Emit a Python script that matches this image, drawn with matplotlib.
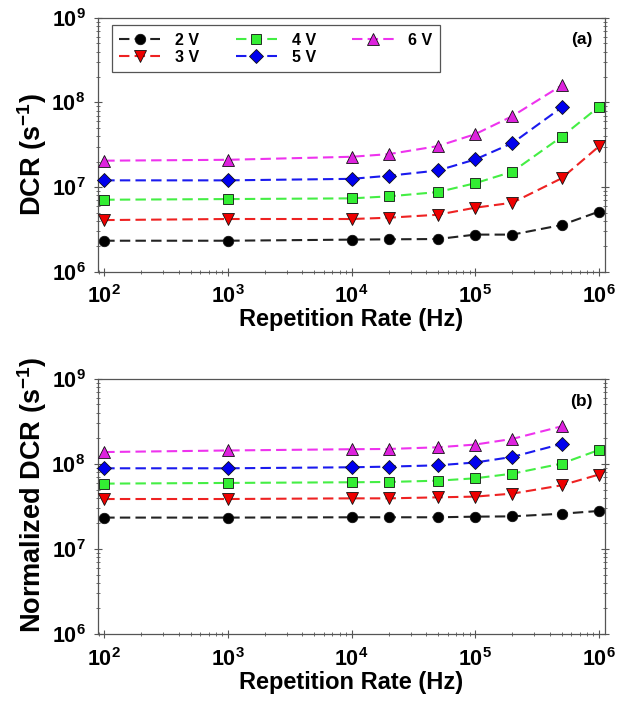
import matplotlib
matplotlib.use("Agg")
import math
import matplotlib.pyplot as plt
from matplotlib.ticker import LogLocator, FuncFormatter, NullFormatter

plt.rcParams['font.family'] = ['Liberation Sans', 'DejaVu Sans']
plt.rcParams['font.weight'] = 'bold'
plt.rcParams['mathtext.fontset'] = 'custom'
plt.rcParams['mathtext.rm'] = 'Liberation Sans:bold'
plt.rcParams['mathtext.bf'] = 'Liberation Sans:bold'
plt.rcParams['mathtext.it'] = 'Liberation Sans:bold'

# Repetition rates (Hz)
rate = [1e2, 1e3, 1e4, 2e4, 5e4, 1e5, 2e5, 5e5, 1e6]
series_labels = ['2 V', '3 V', '4 V', '5 V', '6 V']

# Panel (a): DCR (s^-1)
dcr_2v = [2.32e6, 2.32e6, 2.39e6, 2.41e6, 2.43e6, 2.74e6, 2.74e6, 3.56e6, 5.12e6]
dcr_3v = [4.07e6, 4.19e6, 4.19e6, 4.34e6, 4.71e6, 5.70e6, 6.53e6, 1.27e7, 3.02e7]
dcr_4v = [7.08e6, 7.21e6, 7.35e6, 7.76e6, 8.73e6, 1.11e7, 1.52e7, 3.93e7, 8.89e7]
dcr_5v = [1.20e7, 1.20e7, 1.25e7, 1.36e7, 1.57e7, 2.12e7, 3.31e7, 8.73e7]
dcr_6v = [2.05e7, 2.10e7, 2.28e7, 2.45e7, 3.05e7, 4.22e7, 6.90e7, 1.59e8]

# Panel (b): normalized DCR (s^-1)
ndcr_2v = [2.34e7, 2.34e7, 2.36e7, 2.36e7, 2.36e7, 2.40e7, 2.42e7, 2.60e7, 2.80e7]
ndcr_3v = [3.87e7, 3.87e7, 3.94e7, 3.94e7, 4.05e7, 4.13e7, 4.48e7, 5.61e7, 7.50e7]
ndcr_4v = [5.87e7, 5.98e7, 6.09e7, 6.14e7, 6.36e7, 6.78e7, 7.69e7, 1.01e8, 1.46e8]
ndcr_5v = [8.89e7, 8.89e7, 9.14e7, 9.30e7, 9.64e7, 1.04e8, 1.21e8, 1.72e8]
ndcr_6v = [1.38e8, 1.44e8, 1.49e8, 1.50e8, 1.57e8, 1.69e8, 1.97e8, 2.77e8]

line_colors = ['#222222', '#ee2222', '#44ee44', '#1a1aee', '#ee33ee']
face_colors = ['#000000', '#ee0000', '#33ee33', '#0000ee', '#dd22dd']
markers = ['o', 'v', 's', 'D', '^']
msizes = [7.5, 8, 7, 7, 8]

fig = plt.figure(figsize=(6.24, 7.01), dpi=100)
ax_a = fig.add_axes([0.157, 0.6125, 0.8125, 0.362])
ax_b = fig.add_axes([0.157, 0.0955, 0.8125, 0.364])

def sci(v, pos):
    e = int(round(math.log10(v)))
    return r'$\mathbf{10^{%d}}$' % e

def style(ax, ylabel, ylabel_y):
    ax.set_xscale('log')
    ax.set_yscale('log')
    ax.set_xlim(89, 1.12e6)
    ax.set_ylim(1e6, 1e9)
    ax.xaxis.set_major_locator(LogLocator(base=10, numticks=10))
    ax.xaxis.set_minor_locator(LogLocator(base=10, subs=range(2, 10), numticks=20))
    ax.yaxis.set_major_locator(LogLocator(base=10, numticks=10))
    ax.yaxis.set_minor_locator(LogLocator(base=10, subs=range(2, 10), numticks=20))
    ax.xaxis.set_major_formatter(FuncFormatter(sci))
    ax.yaxis.set_major_formatter(FuncFormatter(sci))
    ax.xaxis.set_minor_formatter(NullFormatter())
    ax.yaxis.set_minor_formatter(NullFormatter())
    ax.tick_params(which='major', direction='inout', length=6, width=0.8,
                   colors='#555555', labelcolor='black', labelsize=15.5,
                   top=False, right=True)
    ax.tick_params(which='minor', direction='inout', length=3, width=0.6,
                   colors='#555555', top=False, right=True)
    ax.tick_params(axis='x', which='major', pad=7)
    ax.tick_params(axis='y', which='major', pad=6)
    for s in ax.spines.values():
        s.set_color('#555555')
        s.set_linewidth(0.9)
    ax.set_xlabel('Repetition Rate (Hz)', fontsize=17, fontweight='bold', labelpad=0)
    ax.set_ylabel(ylabel, fontsize=19.5, fontweight='bold', labelpad=2)
    ax.yaxis.label.set_y(ylabel_y)

def plot_series(ax, data):
    handles = []
    for i, d in enumerate(data):
        h, = ax.plot(rate[:len(d)], d, linestyle=(0, (5, 2.5)), linewidth=1.5,
                     color=line_colors[i], marker=markers[i], markersize=msizes[i],
                     markerfacecolor=face_colors[i], markeredgecolor='#111111',
                     markeredgewidth=0.6, label=series_labels[i], clip_on=False, zorder=3)
        handles.append(h)
    return handles

h = plot_series(ax_a, [dcr_2v, dcr_3v, dcr_4v, dcr_5v, dcr_6v])
plot_series(ax_b, [ndcr_2v, ndcr_3v, ndcr_4v, ndcr_5v, ndcr_6v])

style(ax_a, r'DCR (s$^{\mathbf{-1}}$)', 0.46)
style(ax_b, r'Normalized DCR (s$^{\mathbf{-1}}$)', 0.545)

leg = ax_a.legend(handles=h, ncol=3, loc='upper left', bbox_to_anchor=(0.027, 0.97),
                  borderaxespad=0, frameon=True, fancybox=False, framealpha=1,
                  edgecolor='#555555', handlelength=2.6, handletextpad=0.9,
                  columnspacing=2.3, labelspacing=0.15, borderpad=0.45,
                  prop={'weight': 'bold', 'size': 11.5})
leg.get_frame().set_linewidth(0.9)

ax_a.text(0.975, 0.915, '(a)', transform=ax_a.transAxes, ha='right', va='center',
          fontsize=12.5, fontweight='bold')
ax_b.text(0.975, 0.91, '(b)', transform=ax_b.transAxes, ha='right', va='center',
          fontsize=12.5, fontweight='bold')

fig.savefig('out.png', dpi=100)
